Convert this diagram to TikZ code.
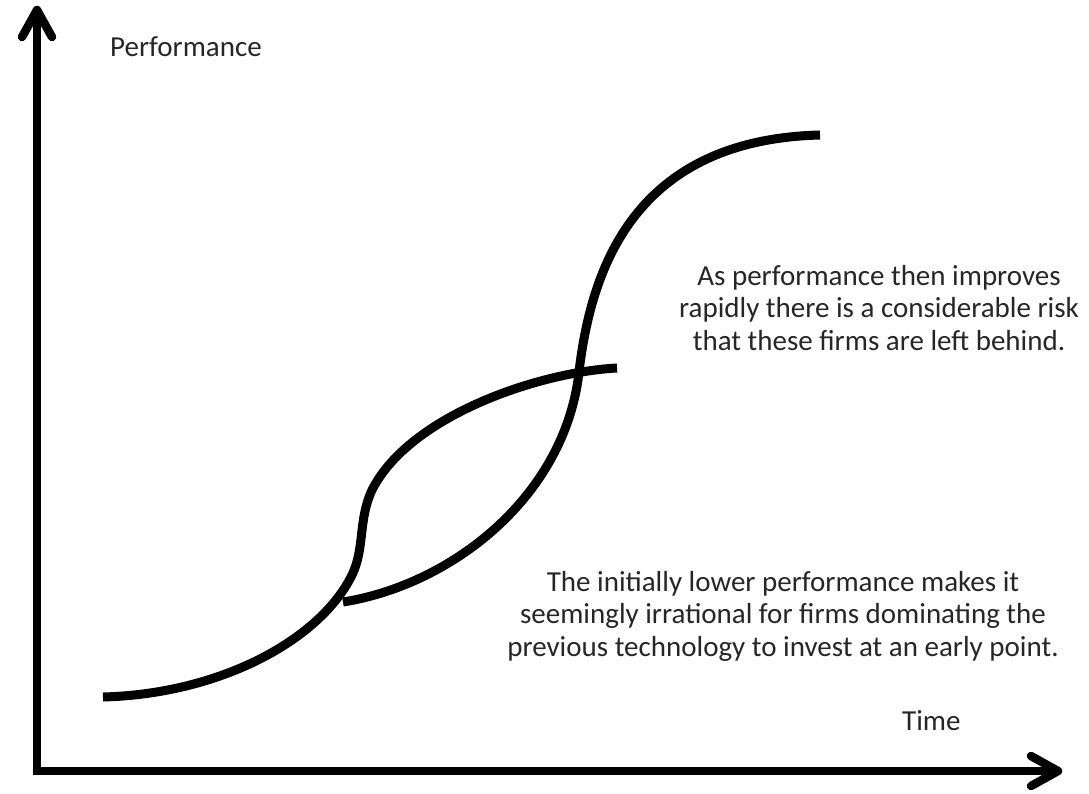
\documentclass[tikz,border=0pt]{standalone}
\usepackage{fontspec}
\setmainfont{Carlito}
\begin{document}
\begin{tikzpicture}[x=1pt,y=-1pt,
  axis/.style={line width=8.5pt, black},
  curve/.style={line width=9pt, black, line cap=butt},
  lbl/.style={inner sep=0pt, text=black!85, font=\fontsize{29}{32.5}\selectfont},
  note/.style={lbl, align=center}]
\useasboundingbox (0,0) rectangle (1089,793);
% axes
\draw[axis, line join=miter] (37,14) -- (37,771) -- (1054,771);
\draw[axis, line cap=round, line join=round] (22,37) -- (37,10) -- (52,37);
\draw[axis, line cap=round, line join=round] (1031,756) -- (1058,771) -- (1031,786);
% old technology curve
\draw[curve] (103,697) .. controls (220,694) and (320,640) .. (352,575)
  .. controls (365,548) and (358,520) .. (372,490)
  .. controls (410,415) and (540,372) .. (617,368);
% new technology curve
\draw[curve] (343,602) .. controls (450,585) and (560,500) .. (578,380)
  .. controls (588,290) and (620,140) .. (820,135);
% labels
\node[lbl, anchor=base west] (perf) at (110,56) {Performance};
\node[lbl, anchor=base west] (time) at (902,730) {Time};
\node[note, anchor=base] (n1) at (879,350) {As performance then improves\\rapidly there is a considerable risk\\that these firms are left behind.};
\node[note, anchor=base] (n2) at (783,656) {The initially lower performance makes it\\seemingly irrational for firms dominating the\\previous technology to invest at an early point.};
\end{tikzpicture}
\end{document}
